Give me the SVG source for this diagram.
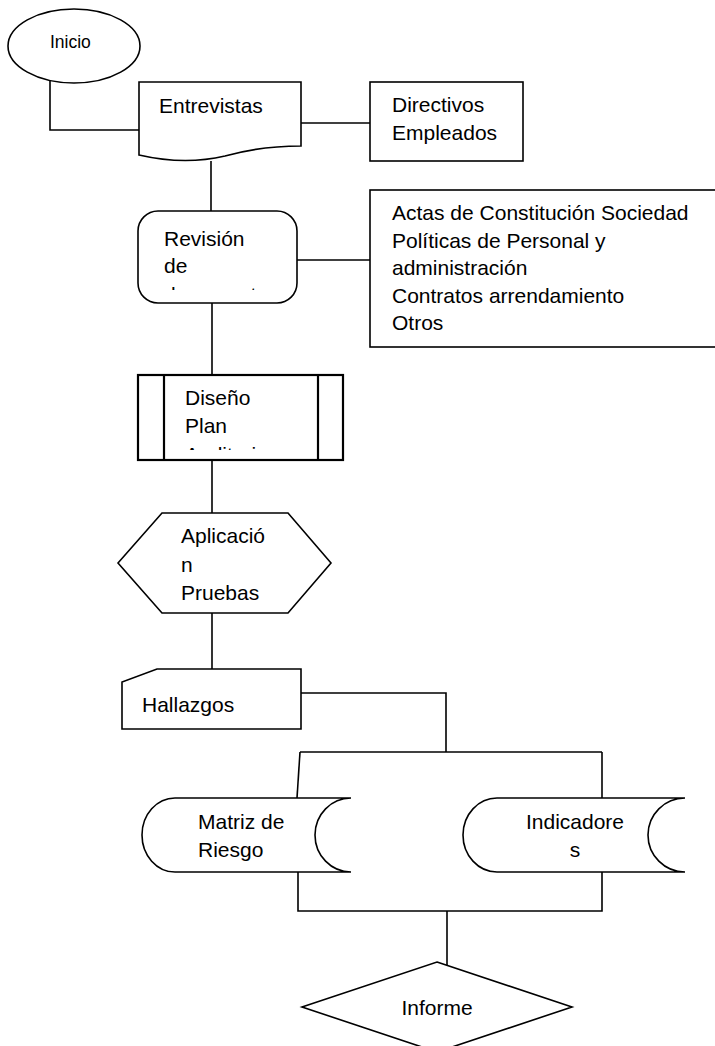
<svg xmlns="http://www.w3.org/2000/svg" width="715" height="1046" viewBox="0 0 715 1046">
<style>
.s{fill:#fff;stroke:#000;stroke-width:1.6}
.c{fill:none;stroke:#000;stroke-width:1.6}
.t{font-family:"Liberation Sans",Arial,sans-serif;font-size:21px;fill:#000}
</style>
<defs>
<clipPath id="clipRev"><rect x="140" y="213" width="155" height="77"/></clipPath>
<clipPath id="clipDis"><rect x="166" y="377" width="150" height="73"/></clipPath>
</defs>
<rect width="715" height="1046" fill="#fff"/>
<g id="connectors">
<polyline class="c" points="50,80 50,130 139,130"/>
<line class="c" x1="301" y1="123" x2="370" y2="123"/>
<line class="c" x1="211" y1="161" x2="211" y2="211"/>
<line class="c" x1="297" y1="260" x2="370" y2="260"/>
<line class="c" x1="212" y1="303" x2="212" y2="375"/>
<line class="c" x1="212" y1="460" x2="212" y2="513"/>
<line class="c" x1="212" y1="613" x2="212" y2="669"/>
<polyline class="c" points="301,693 446,693 446,752"/>
<line class="c" x1="300" y1="752" x2="602" y2="752"/>
<line class="c" x1="300" y1="752" x2="297" y2="798"/>
<line class="c" x1="602" y1="752" x2="602" y2="798"/>
<polyline class="c" points="298,872 298,911 602,911 602,872"/>
<line class="c" x1="447" y1="911" x2="447" y2="965"/>
</g>
<g id="inicio">
<ellipse class="s" cx="74" cy="46" rx="66" ry="37"/>
<text class="t" x="50" y="48" style="font-size:17.5px">Inicio</text>
</g>
<g id="entrevistas">
<path class="s" d="M139,82 L301,82 L301,146 C275,146 250,149 225,156 C195,163 165,161 139,155 Z"/>
<text class="t" x="159" y="113">Entrevistas</text>
</g>
<g id="directivos">
<rect class="s" x="370" y="82" width="153" height="79"/>
<text class="t" x="392" y="112">Directivos</text>
<text class="t" x="392" y="140">Empleados</text>
</g>
<g id="revision">
<rect class="s" x="138" y="211" width="159" height="92" rx="20" ry="20"/>
<g clip-path="url(#clipRev)">
<text class="t" x="164" y="246">Revisión</text>
<text class="t" x="164" y="273">de</text>
<text class="t" x="164" y="302">documentos</text>
</g>
</g>
<g id="actas">
<rect class="s" x="370" y="190" width="360" height="157"/>
<text class="t" x="392" y="220">Actas de Constitución Sociedad</text>
<text class="t" x="392" y="248">Políticas de Personal y</text>
<text class="t" x="392" y="275">administración</text>
<text class="t" x="392" y="303">Contratos arrendamiento</text>
<text class="t" x="392" y="330">Otros</text>
</g>
<g id="diseno">
<rect class="s" x="138" y="375" width="205" height="85" style="stroke-width:2.2"/>
<line class="c" x1="164" y1="375" x2="164" y2="460" style="stroke-width:2.2"/>
<line class="c" x1="318" y1="375" x2="318" y2="460" style="stroke-width:2.2"/>
<g clip-path="url(#clipDis)">
<text class="t" x="185" y="405">Diseño</text>
<text class="t" x="185" y="433">Plan</text>
<text class="t" x="185" y="462">Auditoria</text>
</g>
</g>
<g id="aplicacion">
<polygon class="s" points="118,563 162,513 288,513 331,563 288,613 162,613"/>
<text class="t" x="181" y="543">Aplicació</text>
<text class="t" x="181" y="572">n</text>
<text class="t" x="181" y="600">Pruebas</text>
</g>
<g id="hallazgos">
<path class="s" d="M157,669 L301,669 L301,729 L122,729 L122,682 Z"/>
<text class="t" x="142" y="712">Hallazgos</text>
</g>
<g id="matriz">
<path class="s" d="M175,798 L351,798 A36,37 0 0 0 351,872 L175,872 A33,37 0 0 1 175,798 Z"/>
<text class="t" x="198" y="829">Matriz de</text>
<text class="t" x="198" y="857">Riesgo</text>
</g>
<g id="indicadores">
<path class="s" d="M497,798 L685,798 A37,37 0 0 0 685,872 L497,872 A34,37 0 0 1 497,798 Z"/>
<text class="t" x="575" y="829" text-anchor="middle">Indicadore</text>
<text class="t" x="575" y="857" text-anchor="middle">s</text>
</g>
<g id="informe">
<polygon class="s" points="437,962 572,1007 437,1052 302,1007"/>
<text class="t" x="437" y="1015" text-anchor="middle">Informe</text>
</g>
</svg>
